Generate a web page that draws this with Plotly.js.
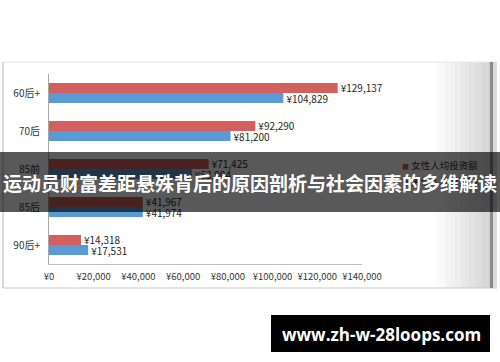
<!DOCTYPE html>
<html>
<head>
<meta charset="utf-8">
<script src="https://cdn.plot.ly/plotly-3.0.1.min.js"></script>
<style>
html,body{margin:0;padding:0;background:#fff;}
#chart{width:500px;height:362px;}
</style>
</head>
<body>
<div id="chart"></div>
<script>
// ---- data ----
const categories = ["60后+", "70后", "85前", "85后", "90后+"];
const femaleName = "女性人均投资额";
const maleName = "男性人均投资额";
const femaleValues = [129137, 92290, 71425, 41967, 14318];
const maleValues = [104829, 81200, 63904, 41974, 17531];
const xTickValues = [0, 20000, 40000, 60000, 80000, 100000, 120000, 140000];
const xTickText = xTickValues.map(v => '¥' + v.toLocaleString('en-US'));
const overlayTitle = "运动员财富差距悬殊背后的原因剖析与社会因素的多维解读";
const siteText = "www.zh-w-28loops.com";

const femaleColor = '#d35f5f';
const maleColor = '#5b9bd5';

// ---- layout helpers (pixel -> paper) ----
const W = 500, H = 362;
const M = {l: 49, r: 138, t: 74, b: 98};
const pw = W - M.l - M.r, ph = H - M.t - M.b;
const px = x => (x - M.l) / pw;
const py = y => (H - M.b - y) / ph;
const rect = (x0, y0, x1, y1, fill, extra) => Object.assign({
  type: 'rect', xref: 'paper', yref: 'paper',
  x0: px(x0), x1: px(x1), y0: py(y1), y1: py(y0),
  fillcolor: fill, line: {width: 0}, layer: 'below'
}, extra || {});
const line = (x0, y0, x1, y1, color, w) => ({
  type: 'line', xref: 'paper', yref: 'paper',
  x0: px(x0), x1: px(x1), y0: py(y0), y1: py(y1),
  line: {color: color, width: w || 1}, layer: 'below'
});

const font = '"Noto Sans CJK SC", "Liberation Sans", sans-serif';

const traces = [
  {
    type: 'bar', orientation: 'h', name: femaleName,
    y: categories, x: femaleValues,
    marker: {color: femaleColor},
    texttemplate: '¥%{x:,}', textposition: 'outside', constraintext: 'none',
    textfont: {family: font, size: 10, color: '#262626'},
    cliponaxis: false, hoverinfo: 'none', showlegend: false
  },
  {
    type: 'bar', orientation: 'h', name: maleName,
    y: categories, x: maleValues,
    marker: {color: maleColor},
    texttemplate: '¥%{x:,}', textposition: 'outside', constraintext: 'none',
    textfont: {family: font, size: 10, color: '#262626'},
    cliponaxis: false, hoverinfo: 'none', showlegend: false
  }
];

// right-side gradient of the chart frame
const gradShapes = [];
const steps = 12;
for (let i = 0; i < steps; i++) {
  const x0 = 436 + i * 4.7;
  const g = Math.round(255 - (i + 1) * 3.6);
  gradShapes.push(rect(x0, 62, x0 + 4.8, 288, `rgb(${g},${g},${g})`));
}

const shapes = [
  ...gradShapes,
  line(3, 62, 497, 62, '#e6e6e6', 1),
  line(3, 288, 497, 288, '#c8c8c8', 1),
  line(3, 62, 3, 288, '#b5b5b5', 1),
  rect(490, 62, 493, 288, '#8a8a8a'),
  rect(493, 62, 497, 288, '#dcdcdc'),
  rect(271, 315, 490, 352, '#000000', {layer: 'above'})
];

// legend drawn as annotations (so the overlay band can lie over it)
const legendItems = [
  {name: femaleName, color: femaleColor, y: 165},
  {name: maleName, color: maleColor, y: 181}
];
const annotations = [];
legendItems.forEach(it => {
  annotations.push({
    xref: 'paper', yref: 'paper', x: px(400), y: py(it.y),
    xanchor: 'left', yanchor: 'middle', showarrow: false,
    text: `<span style="color:${it.color};font-size:7px">■</span> ${it.name}`,
    font: {family: font, size: 9.5, color: '#333333'}
  });
});
// dark overlay band with the headline
annotations.push({
  xref: 'paper', yref: 'paper', x: px(250), y: py(182),
  xanchor: 'center', yanchor: 'middle', showarrow: false,
  width: 500, height: 60, borderpad: 0, borderwidth: 0,
  bgcolor: 'rgba(0,0,0,0.65)',
  text: overlayTitle,
  font: {family: '"Noto Sans CJK SC", sans-serif', size: 19, color: '#ffffff', weight: 'bold'}
});
annotations.push({
  xref: 'paper', yref: 'paper', x: px(381), y: py(334),
  xanchor: 'center', yanchor: 'middle', showarrow: false,
  text: siteText,
  font: {family: '"Open Sans", "DejaVu Sans", sans-serif', size: 17, color: '#ffffff', weight: 'bold'}
});

const layout = {
  width: W, height: H,
  margin: M,
  paper_bgcolor: '#ffffff', plot_bgcolor: 'rgba(0,0,0,0)',
  barmode: 'group', bargap: 0.47, bargroupgap: 0,
  showlegend: false,
  xaxis: {
    range: [0, 140000], tickmode: 'array', tickvals: xTickValues, ticktext: xTickText,
    showgrid: false, zeroline: false, showline: true, linecolor: '#bfbfbf', linewidth: 1,
    ticks: '', ticklabelstandoff: 4,
    tickfont: {family: font, size: 9.5, color: '#333333'}, fixedrange: true
  },
  yaxis: {
    type: 'category', autorange: 'reversed',
    showgrid: false, zeroline: false, showline: true, linecolor: '#a6a6a6', linewidth: 1,
    ticks: '', ticklabelstandoff: 6,
    tickfont: {family: font, size: 10, color: '#333333'}, fixedrange: true
  },
  shapes: shapes,
  annotations: annotations
};

Plotly.newPlot('chart', traces, layout, {displayModeBar: false, staticPlot: true});
</script>
</body>
</html>
